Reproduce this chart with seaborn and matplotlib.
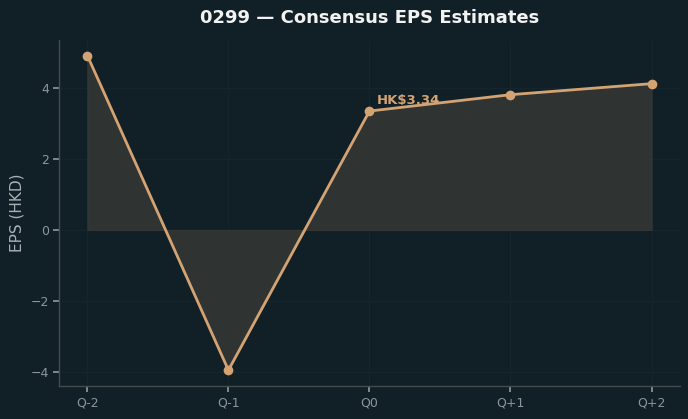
import numpy as np
import pandas as pd
import matplotlib
matplotlib.use("Agg")
import matplotlib.pyplot as plt
import seaborn as sns

quarters = ["Q-2", "Q-1", "Q0", "Q+1", "Q+2"]
eps = [4.90, -3.94, 3.34, 3.80, 4.11]
current_label = "HK$3.34"

bg = "#111f27"
line_col = "#d4a373"
tick_col = "#8b969c"

sns.set_theme(style="dark")
plt.rcParams["font.family"] = ["DejaVu Sans"]

df = pd.DataFrame({"quarter": quarters, "eps": eps, "pos": np.arange(len(quarters))})

fig, ax = plt.subplots(figsize=(6.88, 4.19), dpi=100)
fig.patch.set_facecolor(bg)
ax.set_facecolor(bg)

ax.fill_between(df["pos"], df["eps"], 0, color="#3a3a36", alpha=0.75, linewidth=0.8, edgecolor="#3a3a36")
sns.lineplot(data=df, x="pos", y="eps", ax=ax, color=line_col, linewidth=2,
             marker="o", markersize=7, markeredgewidth=0)

ax.annotate(current_label, (df["pos"][2], df["eps"][2]), xytext=(5, 5),
            textcoords="offset points", color=line_col, fontsize=9.5, fontweight="bold")

ax.set_xticks(df["pos"])
ax.set_xticklabels(quarters)
ax.set_xlabel("")
ax.set_ylabel("EPS (HKD)", color="#a9b1b5", fontsize=11)
ax.set_title("0299 — Consensus EPS Estimates", color="#f2f2f2", fontsize=13,
             fontweight="bold", pad=12)

ax.tick_params(colors=tick_col, labelsize=9, length=4, bottom=True, left=True)
ax.grid(True, color="#16252c", linewidth=0.8)
for s in ["top", "right"]:
    ax.spines[s].set_visible(False)
for s in ["left", "bottom"]:
    ax.spines[s].set_color("#444c50")
    ax.spines[s].set_linewidth(1)

fig.subplots_adjust(left=0.086, right=0.988, top=0.905, bottom=0.079)
fig.savefig("out.png", dpi=100, facecolor=bg)
